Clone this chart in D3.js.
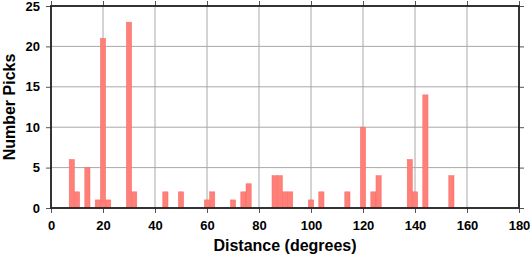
<!DOCTYPE html>
<html>
<head>
<meta charset="utf-8">
<script src="https://cdn.jsdelivr.net/npm/d3@7"></script>
<style>
  body { margin: 0; background: #fff; }
  text { font-family: "Liberation Sans", Arial, Helvetica, sans-serif; font-weight: bold; }
</style>
</head>
<body>
<div id="chart"></div>
<script>
// histogram bins (centre in degrees, bin width 2)
const binCenters = [8, 10, 14, 18, 20, 22, 30, 32, 44, 50, 60, 62, 70, 74, 76, 86, 88, 90, 92, 100, 104, 114, 120, 124, 126, 138, 140, 144, 154];
const binCounts  = [6, 2, 5, 1, 21, 1, 23, 2, 2, 2, 1, 2, 1, 2, 3, 4, 4, 2, 2, 1, 2, 2, 10, 2, 4, 6, 2, 14, 4];
const binWidth = 2;
const xTicks = [0, 20, 40, 60, 80, 100, 120, 140, 160, 180];
const yTicks = [0, 5, 10, 15, 20, 25];

const W = 530, H = 258;
const M = { left: 51, right: 11, top: 6, bottom: 50 };
const iw = W - M.left - M.right;
const ih = H - M.top - M.bottom;

const svg = d3.select("#chart").append("svg")
  .attr("width", W)
  .attr("height", H);

const x = d3.scaleLinear().domain([0, 180]).range([0, iw]);
const y = d3.scaleLinear().domain([0, 25]).range([ih, 0]);

const g = svg.append("g").attr("transform", `translate(${M.left},${M.top})`);

// grid
g.append("g")
  .selectAll("line.vg")
  .data(xTicks)
  .join("line")
  .attr("x1", d => x(d)).attr("x2", d => x(d))
  .attr("y1", 0).attr("y2", ih)
  .attr("stroke", "#a8a8a8")
  .attr("stroke-width", 1);
g.append("g")
  .selectAll("line.hg")
  .data(yTicks)
  .join("line")
  .attr("x1", 0).attr("x2", iw)
  .attr("y1", d => y(d)).attr("y2", d => y(d))
  .attr("stroke", "#a8a8a8")
  .attr("stroke-width", 1);

// bars
const bins = binCenters.map((c, i) => ({ c: c, n: binCounts[i] }));
g.append("g")
  .selectAll("rect")
  .data(bins)
  .join("rect")
  .attr("x", d => x(d.c - binWidth / 2))
  .attr("width", d => x(d.c + binWidth / 2) - x(d.c - binWidth / 2))
  .attr("y", d => y(d.n))
  .attr("height", d => y(0) - y(d.n))
  .attr("fill", "#ff8078")
  .attr("stroke", "#f56a62")
  .attr("stroke-width", 0.5);

// axes
const xAxis = d3.axisBottom(x).tickValues(xTicks).tickSize(5).tickPadding(8);
const xTop = d3.axisTop(x).tickValues(xTicks).tickSize(5).tickFormat("");
const yAxis = d3.axisLeft(y).tickValues(yTicks).tickSize(5).tickPadding(6);
const yRight = d3.axisRight(y).tickValues(yTicks).tickSize(5).tickFormat("");

const style = sel => {
  sel.select(".domain").remove();
  sel.selectAll(".tick line").attr("stroke", "#555");
  sel.selectAll(".tick text")
    .attr("fill", "#000")
    .attr("font-size", 13)
    .attr("font-family", "Liberation Sans, Arial, sans-serif")
    .attr("font-weight", "bold");
};

g.append("g").attr("transform", `translate(0,${ih})`).call(xAxis).call(style);
g.append("g").call(xTop).call(style);
g.append("g").call(yAxis).call(style);
g.append("g").attr("transform", `translate(${iw},0)`).call(yRight).call(style);

// frame
g.append("rect")
  .attr("x", 0).attr("y", 0)
  .attr("width", iw).attr("height", ih)
  .attr("fill", "none")
  .attr("stroke", "#222")
  .attr("stroke-width", 1.8);

// labels
svg.append("text")
  .attr("x", M.left + iw / 2)
  .attr("y", 251)
  .attr("text-anchor", "middle")
  .attr("font-size", 16)
  .text("Distance (degrees)");

svg.append("text")
  .attr("transform", `translate(15,${M.top + ih / 2}) rotate(-90)`)
  .attr("text-anchor", "middle")
  .attr("font-size", 16)
  .text("Number Picks");
</script>
</body>
</html>
